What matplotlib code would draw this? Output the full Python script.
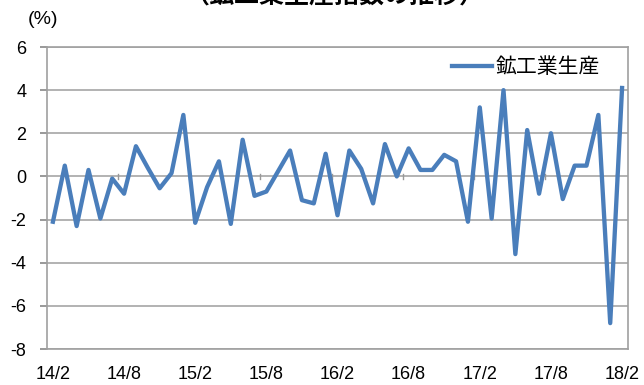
import numpy as np
import matplotlib.pyplot as plt

plt.rcParams['font.family'] = ['Liberation Sans', 'Noto Sans CJK JP', 'DejaVu Sans']

# 鉱工業生産 前月比 (%), 14/2 - 18/2
months = ['14/2', '14/3', '14/4', '14/5', '14/6', '14/7', '14/8', '14/9', '14/10', '14/11', '14/12',
          '15/1', '15/2', '15/3', '15/4', '15/5', '15/6', '15/7', '15/8', '15/9', '15/10', '15/11', '15/12',
          '16/1', '16/2', '16/3', '16/4', '16/5', '16/6', '16/7', '16/8', '16/9', '16/10', '16/11', '16/12',
          '17/1', '17/2', '17/3', '17/4', '17/5', '17/6', '17/7', '17/8', '17/9', '17/10', '17/11', '17/12',
          '18/1', '18/2']
production = [-2.1, 0.5, -2.3, 0.3, -1.95, -0.1, -0.8, 1.4, 0.4, -0.55, 0.15,
              2.85, -2.15, -0.5, 0.7, -2.2, 1.7, -0.9, -0.7, 0.25, 1.2, -1.1, -1.25,
              1.05, -1.8, 1.2, 0.35, -1.25, 1.5, 0.0, 1.3, 0.3, 0.3, 1.0, 0.7,
              -2.1, 3.2, -1.95, 4.0, -3.6, 2.15, -0.8, 2.0, -1.05, 0.5, 0.5, 2.85,
              -6.8, 4.1]
yticks = [-8, -6, -4, -2, 0, 2, 4, 6]

fig = plt.figure(figsize=(6.44, 3.85), dpi=100)
ax = fig.add_axes([47 / 644, 1 - 349 / 385, 581 / 644, 302 / 385])

x = np.arange(len(months))
ax.plot(x, production, color='#4A7EBB', lw=3.1, label='鉱工業生産', zorder=3)

ax.set_ylim(-8, 6)
ax.set_xlim(-0.5, len(months) - 0.5)
ax.set_yticks(yticks)
ax.set_yticklabels([str(v) for v in yticks], fontsize=13)
ax.set_xticks(x[::6])
ax.set_xticklabels(months[::6], fontsize=13)
ax.tick_params(axis='x', length=0, pad=12)
ax.tick_params(axis='y', length=5, width=1.2, color='#888888', pad=10)
ax.yaxis.grid(True, color='#A6A6A6', lw=1.2)
ax.set_axisbelow(True)
for s in ax.spines.values():
    s.set_color('#A0A0A0')
    s.set_linewidth(1.2)

# small category-boundary ticks on the zero line
for b in x[::6][1:] - 0.5:
    ax.plot([b, b], [-0.12, 0.12], color='#999999', lw=1, zorder=1)

leg = ax.legend(loc='center left', frameon=False, fontsize=15, handlelength=1.9,
                handletextpad=0.2, borderpad=0, borderaxespad=0,
                bbox_to_anchor=(452 / 644, 1 - 67 / 385), bbox_transform=fig.transFigure)

fig.text(28 / 644, 1 - 20 / 385, '(%)', fontsize=14, ha='left', va='center')
fig.text(334 / 644, 1 - 9 / 385, '（鉱工業生産指数の推移）', fontsize=18, fontweight='bold',
         ha='center', va='bottom')

fig.savefig('out.png', dpi=100)
